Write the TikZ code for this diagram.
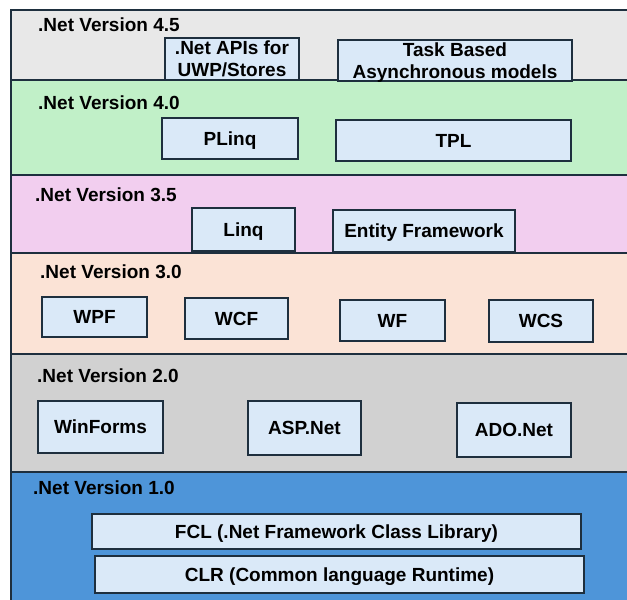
\documentclass[tikz,border=0pt]{standalone}
\usepackage{fontspec}
\setmainfont{Liberation Sans}
\definecolor{edge}{HTML}{1E2F3E}
\definecolor{boxfill}{HTML}{DAE9F8}
\definecolor{vfourfive}{HTML}{E8E8E8}
\definecolor{vfour}{HTML}{C1F0C8}
\definecolor{vthreefive}{HTML}{F2CEEF}
\definecolor{vthree}{HTML}{FBE3D6}
\definecolor{vtwo}{HTML}{D1D1D1}
\definecolor{vone}{HTML}{4E95D9}
\tikzset{
  band/.style={draw=edge, line width=2pt},
  vlabel/.style={anchor=west, inner sep=0pt, font=\bfseries\fontsize{19}{22}\selectfont},
  comp/.style={draw=edge, fill=boxfill, line width=1.4pt, inner sep=0pt, align=center,
    font=\bfseries\fontsize{19}{22}\selectfont},
  oneline/.style={comp, text height=13.5pt, text depth=0pt},
  twoline/.style={comp, text height=35.5pt, text depth=0pt}
}
\begin{document}
\begin{tikzpicture}[x=1pt, y=-1pt]
    \useasboundingbox (0,0) rectangle (627,600);

    % version layers, newest on top
    \draw[band, fill=vfourfive]  (11,10)  rectangle (640,80);
    \draw[band, fill=vfour]      (11,80)  rectangle (640,175);
    \draw[band, fill=vthreefive] (11,175) rectangle (640,253);
    \draw[band, fill=vthree]     (11,253) rectangle (640,354);
    \draw[band, fill=vtwo]       (11,354) rectangle (640,472);
    \draw[band, fill=vone]       (11,472) rectangle (640,610);

    \node[vlabel] (l45) at (38,25)  {.Net Version 4.5};
    \node[vlabel] (l40) at (38,103) {.Net Version 4.0};
    \node[vlabel] (l35) at (35,195) {.Net Version 3.5};
    \node[vlabel] (l30) at (40,272) {.Net Version 3.0};
    \node[vlabel] (l20) at (37,376) {.Net Version 2.0};
    \node[vlabel] (l10) at (33,488) {.Net Version 1.0};

    % 4.5
    \node[twoline, minimum width=134pt, minimum height=42pt] (uwp) at (232,59) {.Net APIs for\\UWP/Stores};
    \node[twoline, minimum width=234pt, minimum height=41pt] (tap) at (455,60.5) {Task Based\\Asynchronous models};
    % 4.0
    \node[oneline, minimum width=136pt, minimum height=41pt] (plinq) at (230,138.5) {PLinq};
    \node[oneline, minimum width=235pt, minimum height=41pt] (tpl) at (453.5,140.5) {TPL};
    % 3.5
    \node[oneline, minimum width=103pt, minimum height=43pt] (linq) at (243.5,229.5) {Linq};
    \node[oneline, minimum width=182pt, minimum height=42pt] (ef) at (424,231) {Entity Framework};
    % 3.0
    \node[oneline, minimum width=105pt, minimum height=40pt] (wpf) at (94.5,317) {WPF};
    \node[oneline, minimum width=103pt, minimum height=41pt] (wcf) at (236.5,318.5) {WCF};
    \node[oneline, minimum width=105pt, minimum height=41pt] (wf)  at (392.5,320.5) {WF};
    \node[oneline, minimum width=104pt, minimum height=42pt] (wcs) at (541,321) {WCS};
    % 2.0
    \node[oneline, minimum width=125pt, minimum height=52pt] (winforms) at (100.5,427) {WinForms};
    \node[oneline, minimum width=113pt, minimum height=54pt] (asp) at (304.5,428) {ASP.Net};
    \node[oneline, minimum width=114pt, minimum height=54pt] (ado) at (514,430) {ADO.Net};
    % 1.0
    \node[oneline, minimum width=489pt, minimum height=35pt] (fcl) at (336.5,531.5) {FCL (.Net Framework Class Library)};
    \node[oneline, minimum width=489pt, minimum height=37pt] (clr) at (339.5,574.5) {CLR (Common language Runtime)};
\end{tikzpicture}
\end{document}
